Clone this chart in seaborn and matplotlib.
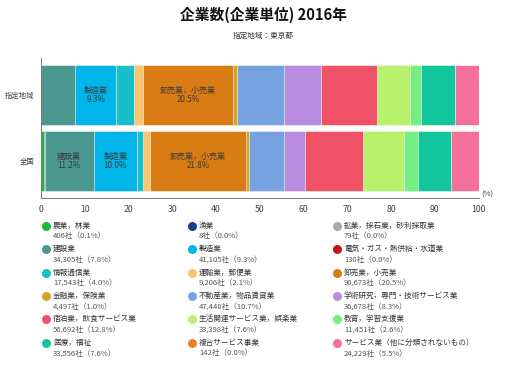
import numpy as np
import pandas as pd
from matplotlib import pyplot as plt
import seaborn as sns

sns.set_style("white")
plt.rcParams['font.family'] = ['Noto Sans CJK JP', 'DejaVu Sans']

regions = ["指定地域", "全国"]

industries = [
    "農業，林業", "漁業", "鉱業，採石業，砂利採取業",
    "建設業", "製造業", "電気・ガス・熱供給・水道業",
    "情報通信業", "運輸業，郵便業", "卸売業，小売業",
    "金融業，保険業", "不動産業，物品賃貸業", "学術研究，専門・技術サービス業",
    "宿泊業，飲食サービス業", "生活関連サービス業，娯楽業", "教育，学習支援業",
    "医療，福祉", "複合サービス事業", "サービス業（他に分類されないもの）",
]

# 東京都の企業数 (legend)
tokyo_counts = [406, 8, 79, 34305, 41105, 130, 17543, 9206, 90673,
                4497, 47440, 36678, 56692, 33398, 11451, 33556, 142, 24229]
tokyo_pct = [0.1, 0.0, 0.0, 7.8, 9.3, 0.0, 4.0, 2.1, 20.5,
             1.0, 10.7, 8.3, 12.8, 7.6, 2.6, 7.6, 0.0, 5.5]

# 全国 shares
japan_pct = [0.7, 0.1, 0.0, 11.2, 10.0, 0.0, 1.2, 1.8, 21.8,
             0.8, 7.9, 4.8, 13.2, 9.5, 3.1, 7.6, 0.0, 6.3]

colors = [
    "#1db83a", "#163f8c", "#a9a9a9",
    "#4a9890", "#00b5e9", "#b81b1b",
    "#18bfc9", "#fbc56f", "#d97c14",
    "#d5a32c", "#77a2e2", "#b88ddd",
    "#ef5266", "#b8f26d", "#74ef83",
    "#11c59d", "#ea8129", "#f4709a",
]

labeled = ["建設業", "製造業", "卸売業，小売業"]

df = pd.DataFrame({"industry": industries, "指定地域": tokyo_pct, "全国": japan_pct})
df["指定地域"] = np.array(tokyo_counts) / sum(tokyo_counts) * 100
cum = df[regions].cumsum()

fig = plt.figure(figsize=(5.12, 3.72), dpi=100)
ax = fig.add_axes([41 / 512, 1 - 198 / 372, (478.7 - 41) / 512, 140 / 372])

# stacked bars: draw cumulative totals back to front
for k in range(len(industries) - 1, -1, -1):
    sns.barplot(x=cum.loc[k, regions].values, y=regions, orient="h",
                color=colors[k], saturation=1, width=0.9,
                edgecolor="white", linewidth=0.4, ax=ax)

for j, reg in enumerate(regions):
    for k, name in enumerate(industries):
        v = df.loc[k, reg]
        if name in labeled and v >= 9:
            mid = cum.loc[k, reg] - v / 2
            ax.text(mid, j, f"{name}\n{v:.1f}%", ha="center", va="center",
                    fontsize=5.8, color="#3a3a3a", linespacing=1.0)

ax.set_xlim(0, 100)
ax.set_ylim(1.555, -0.55)
ax.set_xticks(range(0, 101, 10))
ax.set_xlabel("")
ax.set_ylabel("")
for s in ["top", "right"]:
    ax.spines[s].set_visible(False)
for s in ["left", "bottom"]:
    ax.spines[s].set_color("#777777")
    ax.spines[s].set_linewidth(0.7)
ax.tick_params(axis="both", length=3, width=0.7, color="#777777",
               labelcolor="#444444", pad=2)
ax.tick_params(axis="x", labelsize=6.3)
ax.tick_params(axis="y", labelsize=5.3)
ax.text(1.005, -0.005, "(%)", transform=ax.transAxes, fontsize=5.5,
        color="#444444", ha="left", va="bottom")

fig.text(263 / 512, 1 - 15 / 372, "企業数(企業単位) 2016年", ha="center",
         va="center", fontsize=10.6, fontweight="bold", color="#111111")
fig.text(263 / 512, 1 - 36 / 372, "指定地域：東京都", ha="center",
         va="center", fontsize=5.5, color="#333333")

# legend
lg = fig.add_axes([0, 0, 1, 1])
lg.set_xlim(0, 512)
lg.set_ylim(372, 0)
lg.axis("off")
col_x = [46, 192, 337]
for k, name in enumerate(industries):
    r, c = divmod(k, 3)
    x = col_x[c]
    y = 225.7 + 23.4 * r
    lg.scatter([x], [y], s=42, color=colors[k], linewidths=0)
    lg.text(x + 7, y, name, fontsize=5.5, color="#333333", va="center")
    lg.text(x + 7, y + 10.5, f"{tokyo_counts[k]:,}社（{tokyo_pct[k]:.1f}%）",
            fontsize=5.5, color="#555555", va="center")

fig.savefig("out.png", dpi=100)
